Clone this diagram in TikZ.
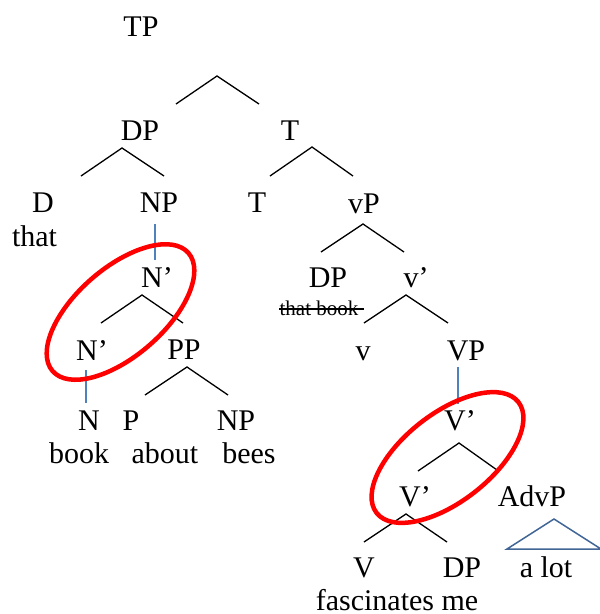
\documentclass[tikz,border=0pt]{standalone}
\usepackage{fontspec}
\setmainfont{Liberation Serif}
\definecolor{lineblue}{RGB}{79,129,189}
\definecolor{roofblue}{RGB}{65,102,150}
\tikzset{
    cat/.style={anchor=base, inner sep=0pt, font=\fontsize{30}{32}\selectfont},
    trace/.style={anchor=base, inner sep=0pt, font=\fontsize{21}{23}\selectfont},
    branch/.style={line width=1.3pt, black},
    unary/.style={line width=1.5pt, lineblue},
    ring/.style={line width=4.5pt, red},
    roof/.style={line width=1.5pt, roofblue, line join=miter},
    strike/.style={line width=1.1pt, black}
}

\begin{document}
\begin{tikzpicture}[x=1pt, y=1pt]
            \useasboundingbox (0,0) rectangle (600,-614);

            % labels
            \node[cat] (tp) at (141,-36) {TP};
            \node[cat] (dp) at (140,-140) {DP};
            \node[cat] (tbar) at (290,-140) {T};
            \node[cat] (d) at (43,-212) {D};
            \node[cat] (np) at (159,-212) {NP};
            \node[cat] (t) at (257,-212) {T};
            \node[cat] (vp) at (364,-213) {vP};
            \node[cat] (that) at (34.5,-246) {that};
            \node[cat] (nb1) at (157,-287) {N’};
            \node[cat] (dpspec) at (328,-287) {DP};
            \node[cat] (vb) at (416,-287) {v’};
            \node[trace] (tbook) at (319,-315) {that book};
            \node[cat] (nb2) at (92,-360) {N’};
            \node[cat] (pp) at (184,-359) {PP};
            \node[cat] (vsmall) at (363,-360) {v};
            \node[cat] (bigvp) at (466,-360) {VP};
            \node[cat] (n) at (89,-430) {N};
            \node[cat] (p) at (131,-430) {P};
            \node[cat] (np2) at (236,-430) {NP};
            \node[cat] (book) at (79,-463) {book};
            \node[cat] (about) at (165,-463) {about};
            \node[cat] (bees) at (249,-463) {bees};
            \node[cat] (vb1) at (460,-430) {V’};
            \node[cat] (vb2) at (415,-506) {V’};
            \node[cat] (advp) at (532,-506) {AdvP};
            \node[cat] (verb) at (364,-577) {V};
            \node[cat] (dpobj) at (462,-577) {DP};
            \node[cat] (alot) at (546,-577) {a lot};
            \node[cat] (fasc) at (397,-610) {fascinates me};

            % branch points
            \coordinate (tp-top) at (217,-76);
            \coordinate (tp-l) at (176,-104);
            \coordinate (tp-r) at (259,-104);
            \coordinate (dp-top) at (122,-148);
            \coordinate (dp-l) at (81,-176);
            \coordinate (dp-r) at (164,-176);
            \coordinate (tbar-top) at (312,-147);
            \coordinate (tbar-l) at (270,-176);
            \coordinate (tbar-r) at (353,-176);
            \coordinate (vp-top) at (363,-224);
            \coordinate (vp-l) at (321,-252);
            \coordinate (vp-r) at (404,-252);
            \coordinate (nb1-top) at (142,-295);
            \coordinate (nb1-l) at (101,-323);
            \coordinate (nb1-r) at (183,-323);
            \coordinate (vb-top) at (406,-295);
            \coordinate (vb-l) at (364,-323);
            \coordinate (vb-r) at (448,-323);
            \coordinate (pp-top) at (187,-367);
            \coordinate (pp-l) at (145,-395);
            \coordinate (pp-r) at (228,-395);
            \coordinate (vb1-top) at (459,-443);
            \coordinate (vb1-l) at (418,-471);
            \coordinate (vb1-r) at (497,-470);
            \coordinate (vb2-top) at (406,-514);
            \coordinate (vb2-l) at (364,-542);
            \coordinate (vb2-r) at (447,-542);

            \draw[branch] (tp-l) -- (tp-top) -- (tp-r);
            \draw[branch] (dp-l) -- (dp-top) -- (dp-r);
            \draw[branch] (tbar-l) -- (tbar-top) -- (tbar-r);
            \draw[branch] (vp-l) -- (vp-top) -- (vp-r);
            \draw[branch] (nb1-l) -- (nb1-top) -- (nb1-r);
            \draw[branch] (vb-l) -- (vb-top) -- (vb-r);
            \draw[branch] (pp-l) -- (pp-top) -- (pp-r);
            \draw[branch] (vb1-l) -- (vb1-top) -- (vb1-r);
            \draw[branch] (vb2-l) -- (vb2-top) -- (vb2-r);

            % non-branching
            \coordinate (np-d) at (155,-224);
            \coordinate (nb1-u) at (155,-260);
            \coordinate (nb2-d) at (86,-370);
            \coordinate (n-u) at (86,-403);
            \coordinate (bigvp-d) at (458,-367);
            \coordinate (vb1-u) at (458,-404);
            \draw[unary] (np-d) -- (nb1-u);
            \draw[unary] (nb2-d) -- (n-u);
            \draw[unary] (bigvp-d) -- (vb1-u);

            % struck-out trace
            \draw[strike] ([yshift=6pt]tbook.base west) -- ([xshift=5pt, yshift=6pt]tbook.base east);

            % roof over a lot
            \coordinate (roof-top) at (554,-519);
            \coordinate (roof-l) at (507,-549);
            \coordinate (roof-r) at (601,-549);
            \draw[roof] (roof-l) -- (roof-top) -- (roof-r) -- cycle;

            % circled constituents
            \draw[ring] (120.5,-312) ellipse [x radius=90, y radius=44, rotate=41];
            \draw[ring] (447.5,-457.5) ellipse [x radius=90, y radius=44, rotate=38];
        \end{tikzpicture}
\end{document}
